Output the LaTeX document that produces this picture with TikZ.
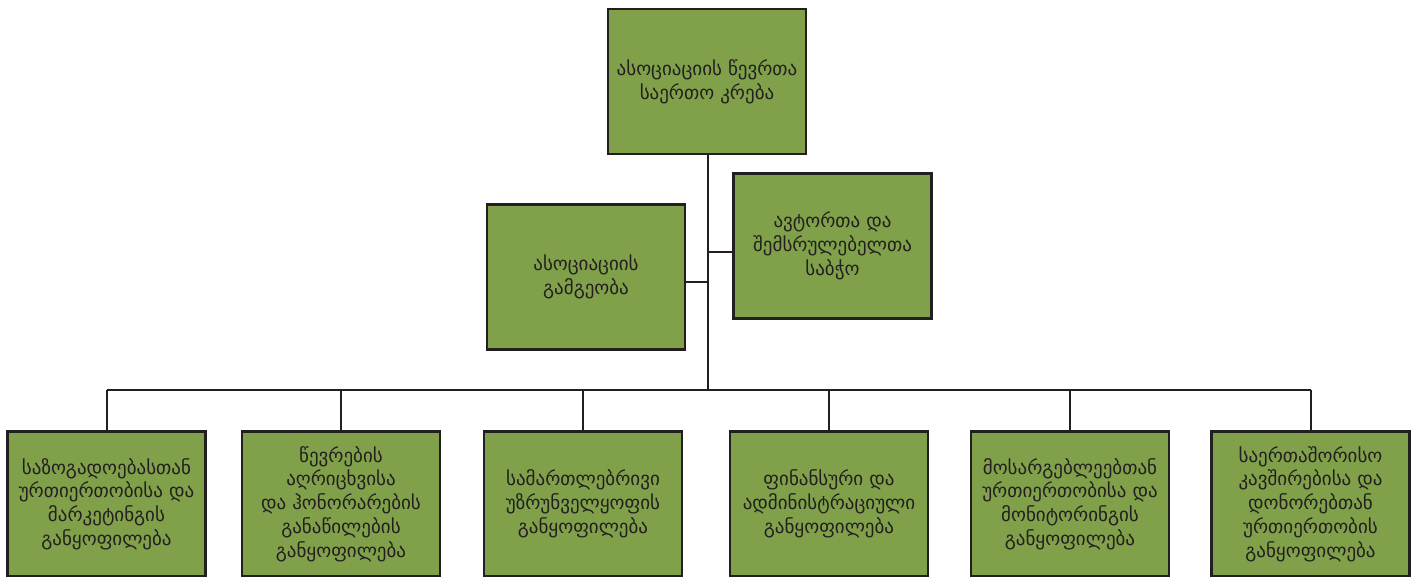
\documentclass[tikz,border=0pt]{standalone}
\usepackage{fontspec}
\newfontfamily\geo[Script=Georgian]{DejaVu Sans}
\definecolor{boxfill}{HTML}{80A14A}
\definecolor{boxline}{HTML}{231F20}
\begin{document}
\begin{tikzpicture}[x=1pt,y=-1pt,
  orgbox/.style={draw=boxline,line width=2.6pt,fill=boxfill,minimum width=198pt,minimum height=145pt,inner sep=0pt,align=center,font=\geo\fontsize{19}{23.8}\selectfont,text=boxline},
  conn/.style={draw=boxline,line width=2pt}]
\useasboundingbox (0,0) rectangle (1411,576);
\node[orgbox] (top) at (707,81.5) {ასოციაციის წევრთა\\საერთო კრება};
\node[orgbox] (gov) at (586,277) {ასოციაციის\\გამგეობა};
\node[orgbox] (council) at (832.5,246) {ავტორთა და\\შემსრულებელთა\\საბჭო};
\node[orgbox] (d1) at (106.5,504) {საზოგადოებასთან\\ურთიერთობისა და\\მარკეტინგის\\განყოფილება};
\node[orgbox] (d2) at (341,504) {წევრების\\აღრიცხვისა\\და ჰონორარების\\განაწილების\\განყოფილება};
\node[orgbox] (d3) at (583,504) {სამართლებრივი\\უზრუნველყოფის\\განყოფილება};
\node[orgbox] (d4) at (829,504) {ფინანსური და\\ადმინისტრაციული\\განყოფილება};
\node[orgbox] (d5) at (1070,504) {მოსარგებლეებთან\\ურთიერთობისა და\\მონიტორინგის\\განყოფილება};
\node[orgbox] (d6) at (1310.5,504) {საერთაშორისო\\კავშირებისა და\\დონორებთან\\ურთიერთობის\\განყოფილება};
\coordinate (bus) at (708,390);
\coordinate (jc) at (708,252);
\coordinate (jg) at (708,282);
\draw[conn] (top.south -| bus) -- (bus);
\draw[conn] (jc) -- (jc -| council.west);
\draw[conn] (jg) -- (jg -| gov.east);
\draw[conn] (bus -| d1.north) -- (bus -| d6.north);
\foreach \n in {d1,d2,d3,d4,d5,d6}{\draw[conn] (bus -| \n.north) -- (\n.north);}
\end{tikzpicture}
\end{document}
